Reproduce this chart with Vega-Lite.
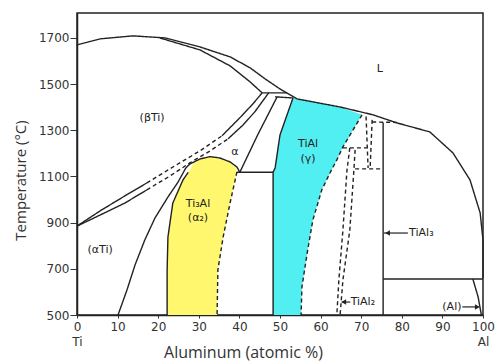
{
  "$schema": "https://vega.github.io/schema/vega-lite/v6.json",
  "width": 406,
  "height": 302,
  "autosize": {"type": "none"},
  "padding": {"left": 77, "top": 13, "right": 12, "bottom": 47},
  "background": "white",
  "config": {
    "view": {"stroke": "#222", "strokeWidth": 1.5},
    "axis": {"grid": false, "domainColor": "#222", "domainWidth": 1.5, "tickColor": "#333", "labelColor": "#333", "titleColor": "#333", "labelFont": "DejaVu Sans", "labelFontSize": 12, "titleFont": "Open Sans", "titleFontWeight": "normal"}
  },
  "datasets": {
    "gamma": [
      {"t": 1440, "xl": 53.2, "xr": 53.3},
      {"t": 1427, "xl": 52.9, "xr": 57.4},
      {"t": 1410, "xl": 52.6, "xr": 62.3},
      {"t": 1393, "xl": 52.2, "xr": 66.0},
      {"t": 1367, "xl": 51.7, "xr": 70.2},
      {"t": 1302, "xl": 50.4, "xr": 68.0},
      {"t": 1280, "xl": 50.0, "xr": 67.3},
      {"t": 1228, "xl": 49.5, "xr": 65.5},
      {"t": 1172, "xl": 49.0, "xr": 64.0},
      {"t": 1137, "xl": 48.8, "xr": 63.0},
      {"t": 1118, "xl": 48.3, "xr": 62.4},
      {"t": 1042, "xl": 48.3, "xr": 60.3},
      {"t": 912, "xl": 48.3, "xr": 58.1},
      {"t": 769, "xl": 48.3, "xr": 56.7},
      {"t": 621, "xl": 48.3, "xr": 55.4},
      {"t": 500, "xl": 48.3, "xr": 55.2}
    ],
    "alpha2": [
      {"t": 1185, "xl": 32.0, "xr": 33.5},
      {"t": 1176, "xl": 30.5, "xr": 35.5},
      {"t": 1163, "xl": 29.0, "xr": 37.5},
      {"t": 1141, "xl": 28.2, "xr": 39.1},
      {"t": 1118, "xl": 27.4, "xr": 39.4},
      {"t": 1085, "xl": 26.1, "xr": 38.9},
      {"t": 985, "xl": 23.6, "xr": 37.7},
      {"t": 838, "xl": 22.4, "xr": 36.0},
      {"t": 695, "xl": 22.2, "xr": 34.7},
      {"t": 500, "xl": 22.2, "xr": 34.5}
    ],
    "lines": [
      {"seg": "liq", "i": 0, "x": 0, "t": 1670, "k": "solid"},
      {"seg": "liq", "i": 1, "x": 5.7, "t": 1696, "k": "solid"},
      {"seg": "liq", "i": 2, "x": 13.8, "t": 1709, "k": "solid"},
      {"seg": "liq", "i": 3, "x": 21.7, "t": 1700, "k": "solid"},
      {"seg": "liq", "i": 4, "x": 30.3, "t": 1661, "k": "solid"},
      {"seg": "liq", "i": 5, "x": 37.7, "t": 1618, "k": "solid"},
      {"seg": "liq", "i": 6, "x": 42.6, "t": 1571, "k": "solid"},
      {"seg": "liq", "i": 7, "x": 46.3, "t": 1523, "k": "solid"},
      {"seg": "liq", "i": 8, "x": 50.0, "t": 1479, "k": "solid"},
      {"seg": "liq", "i": 9, "x": 54.2, "t": 1436, "k": "solid"},
      {"seg": "liq", "i": 10, "x": 64.8, "t": 1401, "k": "solid"},
      {"seg": "liq", "i": 11, "x": 72.9, "t": 1367, "k": "solid"},
      {"seg": "liq", "i": 12, "x": 78.8, "t": 1332, "k": "solid"},
      {"seg": "liq", "i": 13, "x": 86.9, "t": 1293, "k": "solid"},
      {"seg": "liq", "i": 14, "x": 92.6, "t": 1202, "k": "solid"},
      {"seg": "liq", "i": 15, "x": 96.8, "t": 1085, "k": "solid"},
      {"seg": "liq", "i": 16, "x": 99.3, "t": 942, "k": "solid"},
      {"seg": "liq", "i": 17, "x": 100, "t": 825, "k": "solid"},
      {"seg": "liq", "i": 18, "x": 100, "t": 660, "k": "solid"},
      {"seg": "sol", "i": 0, "x": 20.4, "t": 1700, "k": "solid"},
      {"seg": "sol", "i": 1, "x": 30.3, "t": 1648, "k": "solid"},
      {"seg": "sol", "i": 2, "x": 37.7, "t": 1579, "k": "solid"},
      {"seg": "sol", "i": 3, "x": 42.6, "t": 1510, "k": "solid"},
      {"seg": "sol", "i": 4, "x": 45.6, "t": 1462, "k": "solid"},
      {"seg": "per", "i": 0, "x": 45.6, "t": 1462, "k": "solid"},
      {"seg": "per", "i": 1, "x": 51.7, "t": 1462, "k": "solid"},
      {"seg": "per2", "i": 0, "x": 48.8, "t": 1445, "k": "solid"},
      {"seg": "per2", "i": 1, "x": 53.2, "t": 1440, "k": "solid"},
      {"seg": "bt1", "i": 0, "x": 0, "t": 885, "k": "solid"},
      {"seg": "bt1", "i": 1, "x": 5.7, "t": 951, "k": "solid"},
      {"seg": "bt1", "i": 2, "x": 11.8, "t": 1016, "k": "solid"},
      {"seg": "bt1", "i": 3, "x": 17.2, "t": 1072, "k": "solid"},
      {"seg": "bt1d", "i": 0, "x": 17.2, "t": 1072, "k": "dashed"},
      {"seg": "bt1d", "i": 1, "x": 24.1, "t": 1146, "k": "dashed"},
      {"seg": "bt1d", "i": 2, "x": 30.3, "t": 1211, "k": "dashed"},
      {"seg": "bt1d", "i": 3, "x": 35.7, "t": 1276, "k": "dashed"},
      {"seg": "bt1s", "i": 0, "x": 35.7, "t": 1276, "k": "solid"},
      {"seg": "bt1s", "i": 1, "x": 40.1, "t": 1354, "k": "solid"},
      {"seg": "bt1s", "i": 2, "x": 43.3, "t": 1414, "k": "solid"},
      {"seg": "bt1s", "i": 3, "x": 45.6, "t": 1462, "k": "solid"},
      {"seg": "bt2", "i": 0, "x": 0, "t": 885, "k": "solid"},
      {"seg": "bt2", "i": 1, "x": 5.7, "t": 933, "k": "solid"},
      {"seg": "bt2", "i": 2, "x": 11.8, "t": 985, "k": "solid"},
      {"seg": "bt2", "i": 3, "x": 17.2, "t": 1042, "k": "solid"},
      {"seg": "bt2d", "i": 0, "x": 17.2, "t": 1042, "k": "dashed"},
      {"seg": "bt2d", "i": 1, "x": 22.9, "t": 1102, "k": "dashed"},
      {"seg": "bt2d", "i": 2, "x": 27.8, "t": 1159, "k": "dashed"},
      {"seg": "bt2d", "i": 3, "x": 32.8, "t": 1211, "k": "dashed"},
      {"seg": "bt2d", "i": 4, "x": 37.2, "t": 1263, "k": "dashed"},
      {"seg": "bt2s", "i": 0, "x": 37.2, "t": 1263, "k": "solid"},
      {"seg": "bt2s", "i": 1, "x": 40.9, "t": 1323, "k": "solid"},
      {"seg": "bt2s", "i": 2, "x": 43.8, "t": 1380, "k": "solid"},
      {"seg": "bt2s", "i": 3, "x": 47.2, "t": 1462, "k": "solid"},
      {"seg": "ag", "i": 0, "x": 49.3, "t": 1445, "k": "solid"},
      {"seg": "ag", "i": 1, "x": 44.5, "t": 1280, "k": "solid"},
      {"seg": "ag", "i": 2, "x": 40.1, "t": 1118, "k": "solid"},
      {"seg": "eut", "i": 0, "x": 39.4, "t": 1118, "k": "solid"},
      {"seg": "eut", "i": 1, "x": 48.3, "t": 1118, "k": "solid"},
      {"seg": "gl", "i": 0, "x": 48.3, "t": 500, "k": "solid"},
      {"seg": "gl", "i": 1, "x": 48.3, "t": 1118, "k": "solid"},
      {"seg": "gl", "i": 2, "x": 48.8, "t": 1137, "k": "solid"},
      {"seg": "gl", "i": 3, "x": 50.0, "t": 1280, "k": "solid"},
      {"seg": "gl", "i": 4, "x": 53.2, "t": 1440, "k": "solid"},
      {"seg": "gr", "i": 0, "x": 70.2, "t": 1367, "k": "dashed"},
      {"seg": "gr", "i": 1, "x": 68.0, "t": 1302, "k": "dashed"},
      {"seg": "gr", "i": 2, "x": 65.5, "t": 1228, "k": "dashed"},
      {"seg": "gr", "i": 3, "x": 64.0, "t": 1172, "k": "dashed"},
      {"seg": "gr", "i": 4, "x": 62.3, "t": 1115, "k": "dashed"},
      {"seg": "gr", "i": 5, "x": 60.3, "t": 1042, "k": "dashed"},
      {"seg": "gr", "i": 6, "x": 58.1, "t": 912, "k": "dashed"},
      {"seg": "gr", "i": 7, "x": 56.7, "t": 769, "k": "dashed"},
      {"seg": "gr", "i": 8, "x": 55.4, "t": 621, "k": "dashed"},
      {"seg": "gr", "i": 9, "x": 55.2, "t": 500, "k": "dashed"},
      {"seg": "a2l", "i": 0, "x": 22.2, "t": 500, "k": "solid"},
      {"seg": "a2l", "i": 1, "x": 22.2, "t": 695, "k": "solid"},
      {"seg": "a2l", "i": 2, "x": 22.4, "t": 838, "k": "solid"},
      {"seg": "a2l", "i": 3, "x": 23.6, "t": 985, "k": "solid"},
      {"seg": "a2l", "i": 4, "x": 26.1, "t": 1085, "k": "solid"},
      {"seg": "a2l", "i": 5, "x": 27.4, "t": 1118, "k": "solid"},
      {"seg": "dome", "i": 0, "x": 26.8, "t": 1137, "k": "solid"},
      {"seg": "dome", "i": 1, "x": 27.8, "t": 1154, "k": "solid"},
      {"seg": "dome", "i": 2, "x": 30.3, "t": 1176, "k": "solid"},
      {"seg": "dome", "i": 3, "x": 32.8, "t": 1186, "k": "solid"},
      {"seg": "dome", "i": 4, "x": 35.2, "t": 1180, "k": "solid"},
      {"seg": "dome", "i": 5, "x": 37.7, "t": 1163, "k": "solid"},
      {"seg": "dome", "i": 6, "x": 39.4, "t": 1141, "k": "solid"},
      {"seg": "dome", "i": 7, "x": 40.1, "t": 1118, "k": "solid"},
      {"seg": "a2r", "i": 0, "x": 39.4, "t": 1120, "k": "dashed"},
      {"seg": "a2r", "i": 1, "x": 37.7, "t": 985, "k": "dashed"},
      {"seg": "a2r", "i": 2, "x": 36.0, "t": 838, "k": "dashed"},
      {"seg": "a2r", "i": 3, "x": 34.7, "t": 695, "k": "dashed"},
      {"seg": "a2r", "i": 4, "x": 34.5, "t": 500, "k": "dashed"},
      {"seg": "aa2", "i": 0, "x": 10.1, "t": 500, "k": "solid"},
      {"seg": "aa2", "i": 1, "x": 12.3, "t": 608, "k": "solid"},
      {"seg": "aa2", "i": 2, "x": 14.3, "t": 717, "k": "solid"},
      {"seg": "aa2", "i": 3, "x": 16.7, "t": 825, "k": "solid"},
      {"seg": "aa2", "i": 4, "x": 19.2, "t": 920, "k": "solid"},
      {"seg": "aa2", "i": 5, "x": 22.4, "t": 1011, "k": "solid"},
      {"seg": "aa2", "i": 6, "x": 24.9, "t": 1076, "k": "solid"},
      {"seg": "aa2", "i": 7, "x": 26.8, "t": 1137, "k": "solid"},
      {"seg": "t3", "i": 0, "x": 75.4, "t": 1334, "k": "solid"},
      {"seg": "t3", "i": 1, "x": 75.4, "t": 500, "k": "solid"},
      {"seg": "t3top", "i": 0, "x": 72.7, "t": 1336, "k": "dashed"},
      {"seg": "t3top", "i": 1, "x": 78.8, "t": 1334, "k": "dashed"},
      {"seg": "al665", "i": 0, "x": 75.4, "t": 656, "k": "solid"},
      {"seg": "al665", "i": 1, "x": 100, "t": 656, "k": "solid"},
      {"seg": "als", "i": 0, "x": 97.5, "t": 656, "k": "solid"},
      {"seg": "als", "i": 1, "x": 98.8, "t": 578, "k": "solid"},
      {"seg": "als", "i": 2, "x": 99.6, "t": 500, "k": "solid"},
      {"seg": "t2a", "i": 0, "x": 67.2, "t": 1224, "k": "dashed"},
      {"seg": "t2a", "i": 1, "x": 66.5, "t": 1128, "k": "dashed"},
      {"seg": "t2a", "i": 2, "x": 65.5, "t": 868, "k": "dashed"},
      {"seg": "t2a", "i": 3, "x": 64.5, "t": 652, "k": "dashed"},
      {"seg": "t2a", "i": 4, "x": 64.0, "t": 500, "k": "dashed"},
      {"seg": "t2b", "i": 0, "x": 68.5, "t": 1215, "k": "dashed"},
      {"seg": "t2b", "i": 1, "x": 68.2, "t": 1128, "k": "dashed"},
      {"seg": "t2b", "i": 2, "x": 67.2, "t": 868, "k": "dashed"},
      {"seg": "t2b", "i": 3, "x": 65.5, "t": 652, "k": "dashed"},
      {"seg": "t2b", "i": 4, "x": 64.8, "t": 500, "k": "dashed"},
      {"seg": "h1224", "i": 0, "x": 65.5, "t": 1224, "k": "dashed"},
      {"seg": "h1224", "i": 1, "x": 71.4, "t": 1224, "k": "dashed"},
      {"seg": "v1", "i": 0, "x": 71.2, "t": 1360, "k": "dashed"},
      {"seg": "v1", "i": 1, "x": 71.7, "t": 1137, "k": "dashed"},
      {"seg": "v2", "i": 0, "x": 72.7, "t": 1345, "k": "dashed"},
      {"seg": "v2", "i": 1, "x": 72.2, "t": 1137, "k": "dashed"},
      {"seg": "h1133", "i": 0, "x": 68.5, "t": 1133, "k": "dashed"},
      {"seg": "h1133", "i": 1, "x": 75.4, "t": 1133, "k": "dashed"}
    ],
    "labels": [
      {"x": 18.5, "t": 1354, "label": "(βTi)"},
      {"x": 74.6, "t": 1566, "label": "L"},
      {"x": 38.9, "t": 1206, "label": "α"},
      {"x": 5.7, "t": 782, "label": "(αTi)"},
      {"x": 29.8, "t": 980, "label": "Ti₃Al"},
      {"x": 29.8, "t": 920, "label": "(α₂)"},
      {"x": 56.9, "t": 1240, "label": "TiAl"},
      {"x": 56.9, "t": 1176, "label": "(γ)"}
    ],
    "leftlabels": [
      {"x": 81.8, "t": 855, "label": "TiAl₃"},
      {"x": 67.4, "t": 556, "label": "TiAl₂"}
    ],
    "rightlabels": [
      {"x": 94.7, "t": 535, "label": "(Al)"}
    ],
    "arrows": [
      {"x": 75.6, "x2": 81.5, "t": 855},
      {"x": 65.2, "x2": 67.3, "t": 556},
      {"x": 94.9, "x2": 98.9, "t": 535}
    ],
    "heads": [
      {"x": 76.5, "t": 855, "dir": "left"},
      {"x": 65.7, "t": 556, "dir": "left"},
      {"x": 98.6, "t": 535, "dir": "right"}
    ]
  },
  "layer": [
    {
      "data": {"name": "gamma"},
      "mark": {"type": "area", "orient": "horizontal", "color": "#52EFF2", "opacity": 1},
      "encoding": {
        "y": {"field": "t", "type": "quantitative", "scale": {"domain": [500, 1808], "nice": false, "zero": false},
          "axis": {"title": "Temperature (°C)", "values": [500, 700, 900, 1100, 1300, 1500, 1700], "format": "d", "tickSize": 7, "labelPadding": 1, "titleFontSize": 15, "titleX": -57, "titleY": 167, "titleAngle": 270, "titleBaseline": "middle", "titleAlign": "center"}},
        "x": {"field": "xl", "type": "quantitative", "scale": {"domain": [0, 100], "nice": false, "zero": false},
          "axis": {"title": "Aluminum (atomic %)", "values": [0, 10, 20, 30, 40, 50, 60, 70, 80, 90, 100], "format": "d", "tickSize": 3, "labelPadding": 3, "labelFlush": false, "labelOverlap": false, "labelLineHeight": 15, "labelExpr": "datum.value == 0 ? ['0', 'Ti'] : datum.value == 100 ? ['100', 'Al'] : datum.label", "titleFontSize": 16, "titleX": 166, "titleY": 37, "titleBaseline": "middle", "titleAlign": "center"}},
        "x2": {"field": "xr"}
      }
    },
    {
      "data": {"name": "alpha2"},
      "mark": {"type": "area", "orient": "horizontal", "color": "#FFF86E", "opacity": 1},
      "encoding": {
        "y": {"field": "t", "type": "quantitative"},
        "x": {"field": "xl", "type": "quantitative"},
        "x2": {"field": "xr"}
      }
    },
    {
      "data": {"name": "lines"},
      "mark": {"type": "line", "color": "#222", "strokeWidth": 1.4},
      "encoding": {
        "x": {"field": "x", "type": "quantitative"},
        "y": {"field": "t", "type": "quantitative"},
        "detail": {"field": "seg"},
        "order": {"field": "i"},
        "strokeDash": {"field": "k", "type": "nominal", "scale": {"domain": ["solid", "dashed"], "range": [[1, 0], [4, 3]]}, "legend": null}
      }
    },
    {
      "data": {"name": "arrows"},
      "mark": {"type": "rule", "color": "#222", "strokeWidth": 1.2},
      "encoding": {
        "x": {"field": "x", "type": "quantitative"},
        "x2": {"field": "x2"},
        "y": {"field": "t", "type": "quantitative"}
      }
    },
    {
      "data": {"name": "heads"},
      "mark": {"type": "point", "filled": true, "color": "#222", "size": 30, "opacity": 1},
      "encoding": {
        "x": {"field": "x", "type": "quantitative"},
        "y": {"field": "t", "type": "quantitative"},
        "shape": {"field": "dir", "type": "nominal", "scale": {"domain": ["left", "right"], "range": ["triangle-left", "triangle-right"]}, "legend": null}
      }
    },
    {
      "data": {"name": "labels"},
      "mark": {"type": "text", "font": "DejaVu Sans", "fontSize": 11, "color": "#222", "align": "center", "baseline": "middle"},
      "encoding": {
        "x": {"field": "x", "type": "quantitative"},
        "y": {"field": "t", "type": "quantitative"},
        "text": {"field": "label"}
      }
    },
    {
      "data": {"name": "leftlabels"},
      "mark": {"type": "text", "font": "DejaVu Sans", "fontSize": 11, "color": "#222", "align": "left", "baseline": "middle"},
      "encoding": {
        "x": {"field": "x", "type": "quantitative"},
        "y": {"field": "t", "type": "quantitative"},
        "text": {"field": "label"}
      }
    },
    {
      "data": {"name": "rightlabels"},
      "mark": {"type": "text", "font": "DejaVu Sans", "fontSize": 11, "color": "#222", "align": "right", "baseline": "middle"},
      "encoding": {
        "x": {"field": "x", "type": "quantitative"},
        "y": {"field": "t", "type": "quantitative"},
        "text": {"field": "label"}
      }
    }
  ]
}
